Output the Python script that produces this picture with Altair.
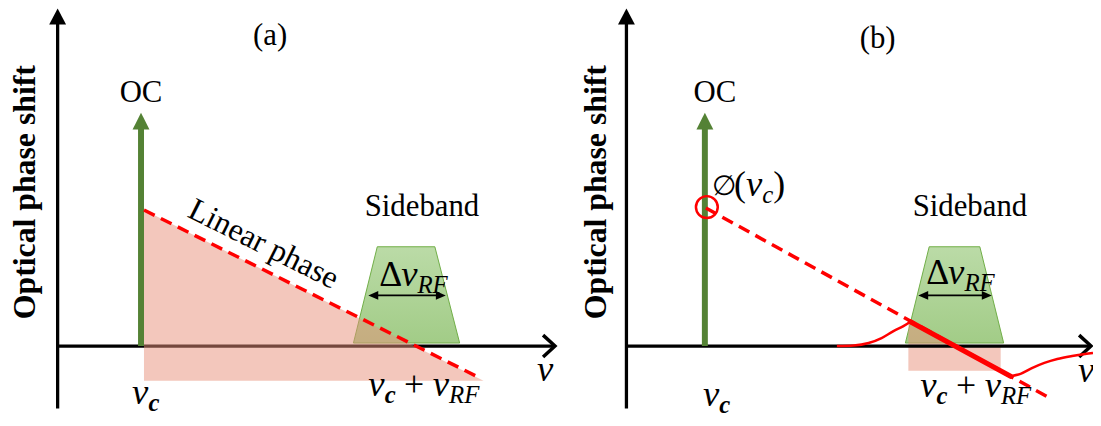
import altair as alt
import pandas as pd

# ---------------- diagram geometry (diagram units = reference frame) ----------------
PANELS     = ["a", "b"]
Y_AXIS_X   = [58, 631]
X_AXIS_Y   = 347
X_AXIS_END = [559, 1099]
Y_AXIS_TOP = 7
Y_AXIS_BOT = 410

OC_X       = [142, 710]          # optical carrier arrows
OC_TIP_Y   = 112

# linear phase (dashed red)
PH_X0 = [145, 711];  PH_Y0 = [210, 208]
PH_X1 = [483, 1055]; PH_Y1 = [379, 398]

# pink phase-shift areas
PINK_A_X = [145, 487]; PINK_A_Y = [210, 382]; PINK_A_BASE = 382
PINK_B_X = [915, 963]; PINK_B_Y = [322.5, 347]; PINK_B_BASE = 347
PINK_B_RECT = dict(x=[915], x2=[1008], y=[347], y2=[372])

# sideband trapezoids
SB_TOP_Y = 247; SB_BOT_Y = 344
SB_TOP_X1 = [380, 936]; SB_TOP_X2 = [438, 987]
SB_BOT_X1 = [356, 912]; SB_BOT_X2 = [463, 1011]

# bandwidth double arrows
BW_Y = [296, 296]; BW_X1 = [371, 925]; BW_X2 = [449, 999]

# real (nonlinear) phase response in (b)
WAVE_L_X = [843, 860, 875, 888, 900, 910, 917]
WAVE_L_Y = [347, 346.5, 344, 339, 332, 327, 322.5]
SOLID_X = [917, 1018]; SOLID_Y = [322.5, 377.5]
WAVE_R_X = [1018, 1028, 1040, 1052, 1065, 1080, 1093, 1101]
WAVE_R_Y = [377.5, 375, 369, 364, 360, 357, 355, 354]

CIRC_X = [712]; CIRC_Y = [207]

# plain labels
LBL_TEXT = ["(a)", "(b)", "OC", "OC", "Sideband", "Sideband"]
LBL_X    = [272, 884, 142, 720, 425, 977]
LBL_Y    = [35, 38, 92, 92, 207, 207]
YLAB_TEXT = ["Optical phase shift", "Optical phase shift"]
YLAB_X = [25, 600]; YLAB_Y = [192, 192]
LIN_TEXT = ["Linear phase"]; LIN_X = [261]; LIN_Y = [253]

# math labels: (runs, x0, baseline)
MATH = [
    ([("v", "mi"), ("c", "sb")], 133, 405),
    ([("v", "mi"), ("c", "sb")], 708, 407),
    ([("v", "mi"), ("c", "sb"), (" ", "gap"), ("+", "mu"), (" ", "gap"), ("v", "mi"), ("RF", "si")], 371, 397),
    ([("v", "mi"), ("c", "sb"), (" ", "gap"), ("+", "mu"), (" ", "gap"), ("v", "mi"), ("RF", "si")], 927, 398),
    ([("Δ", "mu"), ("v", "mi"), ("RF", "si")], 382, 287),
    ([("Δ", "mu"), ("v", "mi"), ("RF", "si")], 933, 285),
    ([("∅", "phi"), ("(", "mu"), ("v", "mi"), ("c", "si"), (")", "mu")], 717, 196),
    ([("v", "mi")], 541, 382),
    ([("v", "mi")], 1086, 383),
]

# ---------------- styling ----------------
SERIF = "Liberation Serif"
GREEN = "#548235"
RED = "#FF0000"
PINK = "#E8907A"
SIZES = {"mi": 37, "mu": 36, "si": 25, "sb": 25, "gap": 34, "phi": 28}
DY = {"mi": 0, "mu": 0, "si": 7, "sb": 7, "gap": 0, "phi": -1}
W = {"v": 0.444, "R": 0.611, "F": 0.611, "c": 0.444, "+": 0.564, "Δ": 0.612,
     "(": 0.333, ")": 0.333, "∅": 0.80, " ": 0.25}

XS = alt.Scale(domain=[8, 1093], zero=False, nice=False)
YS = alt.Scale(domain=[8, 418], zero=False, nice=False, reverse=True)


def ex(f="x"):
    return alt.X(f"{f}:Q", scale=XS, axis=None)


def ey(f="y"):
    return alt.Y(f"{f}:Q", scale=YS, axis=None)


layers = []

# sideband trapezoids
trap = pd.DataFrame({
    "panel": PANELS * 2,
    "y": [SB_TOP_Y] * 2 + [SB_BOT_Y] * 2,
    "x": SB_TOP_X1 + SB_BOT_X1,
    "x2": SB_TOP_X2 + SB_BOT_X2,
})
green_grad = alt.Gradient(gradient="linear", x1=0, x2=0, y1=0, y2=1,
                          stops=[alt.GradientStop(color="#BBDBA7", offset=0),
                                 alt.GradientStop(color="#A2CC87", offset=1)])
layers.append(alt.Chart(trap).mark_area(orient="horizontal", fill=green_grad,
                                        stroke="#70AD47", strokeWidth=1)
              .encode(y=ey(), x=ex(), x2=alt.X2("x2:Q"), detail="panel:N"))


def axes_for(i):
    out = []
    rules = pd.DataFrame({
        "x": [Y_AXIS_X[i], Y_AXIS_X[i]], "x2": [Y_AXIS_X[i], X_AXIS_END[i] - 2],
        "y": [Y_AXIS_TOP + 14, X_AXIS_Y], "y2": [Y_AXIS_BOT, X_AXIS_Y]})
    out.append(alt.Chart(rules).mark_rule(color="black", strokeWidth=3.3, strokeCap="butt")
               .encode(x=ex(), x2=alt.X2("x2:Q"), y=ey(), y2=alt.Y2("y2:Q")))
    chev = pd.DataFrame({"i": [0, 1, 2],
                         "x": [X_AXIS_END[i] - 12, X_AXIS_END[i], X_AXIS_END[i] - 12],
                         "y": [X_AXIS_Y - 11, X_AXIS_Y, X_AXIS_Y + 11]})
    out.append(alt.Chart(chev).mark_line(color="black", strokeWidth=3.5, strokeJoin="miter")
               .encode(x=ex(), y=ey(), order="i:Q"))
    head = pd.DataFrame({"x": [Y_AXIS_X[i] - 8.5, Y_AXIS_X[i], Y_AXIS_X[i] + 8.5],
                         "y": [Y_AXIS_TOP + 16, Y_AXIS_TOP, Y_AXIS_TOP + 16],
                         "y2": [Y_AXIS_TOP + 16] * 3})
    out.append(alt.Chart(head).mark_area(color="black")
               .encode(x=ex(), y=ey(), y2=alt.Y2("y2:Q")))
    return out


layers += axes_for(0)

# pink areas (drawn over panel (a) axes, under panel (b) axes)
pink = pd.DataFrame({
    "shape": ["a", "a", "b", "b"],
    "x": PINK_A_X + PINK_B_X,
    "y": PINK_A_Y + PINK_B_Y,
    "y2": [PINK_A_BASE] * 2 + [PINK_B_BASE] * 2,
})
layers.append(alt.Chart(pink).mark_area(color=PINK, opacity=0.5)
              .encode(x=ex(), y=ey(), y2=alt.Y2("y2:Q"), detail="shape:N"))
layers.append(alt.Chart(pd.DataFrame(PINK_B_RECT)).mark_rect(color=PINK, opacity=0.5)
              .encode(x=ex(), x2=alt.X2("x2:Q"), y=ey(), y2=alt.Y2("y2:Q")))

layers += axes_for(1)

# optical carrier arrows
shaft = pd.DataFrame({"x": OC_X, "y": [OC_TIP_Y + 15] * 2, "y2": [X_AXIS_Y] * 2})
layers.append(alt.Chart(shaft).mark_rule(color=GREEN, strokeWidth=6, strokeCap="butt")
              .encode(x=ex(), y=ey(), y2=alt.Y2("y2:Q")))
ochead = pd.DataFrame({
    "k": [0, 0, 0, 1, 1, 1],
    "x": [OC_X[0] - 8.5, OC_X[0], OC_X[0] + 8.5, OC_X[1] - 8.5, OC_X[1], OC_X[1] + 8.5],
    "y": [OC_TIP_Y + 17, OC_TIP_Y, OC_TIP_Y + 17] * 2,
    "y2": [OC_TIP_Y + 17] * 6})
layers.append(alt.Chart(ochead).mark_area(color=GREEN)
              .encode(x=ex(), y=ey(), y2=alt.Y2("y2:Q"), detail="k:N"))

# linear phase dashed lines
dash = pd.DataFrame({"x": PH_X0, "y": PH_Y0, "x2": PH_X1, "y2": PH_Y1})
layers.append(alt.Chart(dash).mark_rule(color=RED, strokeWidth=3.5, strokeDash=[12, 7], strokeCap="butt")
              .encode(x=ex(), x2=alt.X2("x2:Q"), y=ey(), y2=alt.Y2("y2:Q")))

# real phase response (b)
solid = pd.DataFrame({"x": [SOLID_X[0]], "y": [SOLID_Y[0]], "x2": [SOLID_X[1]], "y2": [SOLID_Y[1]]})
layers.append(alt.Chart(solid).mark_rule(color=RED, strokeWidth=5, strokeCap="round")
              .encode(x=ex(), x2=alt.X2("x2:Q"), y=ey(), y2=alt.Y2("y2:Q")))
wave = pd.DataFrame({
    "seg": ["L"] * len(WAVE_L_X) + ["R"] * len(WAVE_R_X),
    "i": list(range(len(WAVE_L_X))) + list(range(len(WAVE_R_X))),
    "x": WAVE_L_X + WAVE_R_X, "y": WAVE_L_Y + WAVE_R_Y})
layers.append(alt.Chart(wave).mark_line(color=RED, strokeWidth=2.5, interpolate="monotone")
              .encode(x=ex(), y=ey(), detail="seg:N", order="i:Q"))

# phase marker circle
layers.append(alt.Chart(pd.DataFrame({"x": CIRC_X, "y": CIRC_Y}))
              .mark_point(shape="circle", size=484, filled=False, color=RED, strokeWidth=2.5, opacity=1)
              .encode(x=ex(), y=ey()))

# bandwidth double arrows
bw = pd.DataFrame({"x": [a + 6 for a in BW_X1], "x2": [b - 6 for b in BW_X2], "y": BW_Y})
layers.append(alt.Chart(bw).mark_rule(color="black", strokeWidth=1.6)
              .encode(x=ex(), x2=alt.X2("x2:Q"), y=ey()))
rows = []
for k in range(2):
    yc = BW_Y[k]
    for j, (tip, base) in enumerate([(BW_X1[k], BW_X1[k] + 10), (BW_X2[k], BW_X2[k] - 10)]):
        for dy, xx in [(-4.5, base), (0, tip), (4.5, base)]:
            rows.append({"h": f"{k}{j}", "y": yc + dy, "x": xx, "xb": base})
layers.append(alt.Chart(pd.DataFrame(rows)).mark_area(orient="horizontal", color="black")
              .encode(y=ey(), x=ex(), x2=alt.X2("xb:Q"), detail="h:N"))

# plain labels
lbl = pd.DataFrame({"t": LBL_TEXT, "x": LBL_X, "y": LBL_Y})
layers.append(alt.Chart(lbl).mark_text(font=SERIF, fontSize=31, align="center", baseline="middle", color="black")
              .encode(x=ex(), y=ey(), text="t:N"))
ylab = pd.DataFrame({"t": YLAB_TEXT, "x": YLAB_X, "y": YLAB_Y})
layers.append(alt.Chart(ylab).mark_text(font=SERIF, fontSize=32, fontWeight="bold", angle=270,
                                        align="center", baseline="middle", color="black")
              .encode(x=ex(), y=ey(), text="t:N"))
lin = pd.DataFrame({"t": LIN_TEXT, "x": LIN_X, "y": LIN_Y})
layers.append(alt.Chart(lin).mark_text(font=SERIF, fontSize=32, angle=26.6, align="center",
                                       baseline="alphabetic", color="black")
              .encode(x=ex(), y=ey(), text="t:N"))

# math labels, laid out run by run
mrows = []
for runs, x0, y0 in MATH:
    x = x0
    for text, kind in runs:
        if kind != "gap":
            mrows.append({"t": text, "x": x, "y": y0 + DY[kind], "kind": kind})
        x += sum(W.get(ch, 0.5) for ch in text) * SIZES[kind]
mdf = pd.DataFrame(mrows)
styles = {
    "mi": dict(fontSize=SIZES["mi"], fontStyle="italic"),
    "mu": dict(fontSize=SIZES["mu"]),
    "phi": dict(fontSize=SIZES["phi"]),
    "si": dict(fontSize=SIZES["si"], fontStyle="italic"),
    "sb": dict(fontSize=SIZES["sb"], fontStyle="italic", fontWeight="bold"),
}
for kind, st in styles.items():
    sub = mdf[mdf["kind"] == kind]
    layers.append(alt.Chart(sub).mark_text(font=SERIF, align="left", baseline="alphabetic", color="black", **st)
                  .encode(x=ex(), y=ey(), text="t:N"))

chart = alt.layer(*layers).properties(
    width=1085, height=410,
    autosize=alt.AutoSizeParams(type="none"),
    padding={"left": 0, "top": 0, "right": 8, "bottom": 0},
    background="white",
).configure_view(stroke=None)

chart.save("out.html", embed_options={"renderer": "svg", "actions": False})
